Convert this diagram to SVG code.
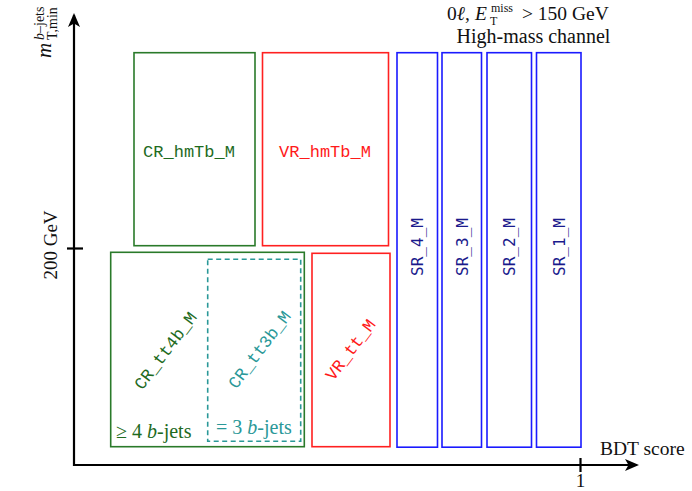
<svg xmlns="http://www.w3.org/2000/svg" width="692" height="491" viewBox="0 0 692 491">
<style>
.ser{font-family:"Liberation Serif","DejaVu Serif",serif}
.k{fill:#111}
.mono{font-family:"Liberation Mono","DejaVu Sans Mono",monospace;font-size:17px}
.smono{font-family:"DejaVu Sans Mono","Liberation Mono",monospace;font-size:16px;fill:#1a1a8c}
.box{fill:none;stroke-width:1.6}
.g{stroke:#2a7a2a}.r{stroke:#ff2020}.b{stroke:#1a1aff}.t{stroke:#2a9898;stroke-dasharray:5,3.5}
.axis{stroke:#000;stroke-width:2.2;fill:none}
</style>
<defs>
<marker id="ah" viewBox="0 0 14 12" refX="12" refY="6" markerWidth="14" markerHeight="12" markerUnits="userSpaceOnUse" orient="auto">
<path d="M0,0 L14,6 L0,12 L3.5,6 Z" fill="#000"/>
</marker>
</defs>
<g id="axes">
<line class="axis" x1="74" y1="466" x2="74" y2="15" marker-end="url(#ah)"/>
<line class="axis" x1="73" y1="465" x2="637" y2="465" marker-end="url(#ah)"/>
<line class="axis" x1="67" y1="248.5" x2="83" y2="248.5" stroke-width="1.5"/>
<line class="axis" x1="580.5" y1="458" x2="580.5" y2="472" stroke-width="1.5"/>
</g>
<g id="labels" class="k">
<text class="ser" font-size="19" transform="translate(57,245) rotate(-90)" text-anchor="middle">200 GeV</text>
<text class="ser" font-size="19" x="580.5" y="487" text-anchor="middle">1</text>
<text class="ser" font-size="19.5" x="600" y="455">BDT score</text>
<text class="ser" font-size="21" font-style="italic" transform="translate(51,58) rotate(-90)">m</text>
<text class="ser" font-size="14" transform="translate(44,40) rotate(-90)"><tspan font-style="italic">b</tspan>–jets</text>
<text class="ser" font-size="14" transform="translate(57,40) rotate(-90)">T,min</text>
<text class="ser" font-size="19.5" x="447" y="20">0<tspan font-style="italic">ℓ</tspan>,</text>
<text class="ser" font-size="19.5" font-style="italic" x="475" y="20">E</text>
<text class="ser" font-size="12" x="490" y="25">T</text>
<text class="ser" font-size="12" x="491" y="12">miss</text>
<text class="ser" font-size="19.5" x="522" y="20">&gt; 150 GeV</text>
<text class="ser" font-size="20" x="533.5" y="43" text-anchor="middle">High-mass channel</text>
</g>
<g id="CR_hmTb_M">
<rect class="box g" x="134" y="52.7" width="121" height="193"/>
<text class="mono" x="189" y="157" text-anchor="middle" fill="#1e6b1e">CR_hmTb_M</text>
</g>
<g id="VR_hmTb_M">
<rect class="box r" x="262.5" y="52.7" width="126" height="193"/>
<text class="mono" x="325" y="157" text-anchor="middle" fill="#ff1a1a">VR_hmTb_M</text>
</g>
<g id="SR_4_M">
<rect class="box b" x="397" y="52.7" width="40.5" height="394.5"/>
<text class="smono" transform="translate(423,247) rotate(-90)" text-anchor="middle">SR_4_M</text>
</g>
<g id="SR_3_M">
<rect class="box b" x="442" y="52.7" width="39.5" height="394.5"/>
<text class="smono" transform="translate(467.5,247) rotate(-90)" text-anchor="middle">SR_3_M</text>
</g>
<g id="SR_2_M">
<rect class="box b" x="487" y="52.7" width="44.5" height="394.5"/>
<text class="smono" transform="translate(515,247) rotate(-90)" text-anchor="middle">SR_2_M</text>
</g>
<g id="SR_1_M">
<rect class="box b" x="536.5" y="52.7" width="44.5" height="394.5"/>
<text class="smono" transform="translate(564.5,247) rotate(-90)" text-anchor="middle">SR_1_M</text>
</g>
<g id="CR_tt4b_M">
<rect class="box g" x="110.7" y="252.3" width="193.6" height="194.4"/>
<text class="mono" transform="translate(170,354) rotate(-53)" text-anchor="middle" fill="#1e6b1e">CR_tt4b_M</text>
<text class="ser" font-size="20" x="116" y="438" fill="#1e6b1e">≥ 4 <tspan font-style="italic">b</tspan>-jets</text>
</g>
<g id="CR_tt3b_M">
<rect class="box t" x="207.7" y="259.3" width="93" height="182"/>
<text class="mono" transform="translate(264,353) rotate(-53)" text-anchor="middle" fill="#2a9898">CR_tt3b_M</text>
<text class="ser" font-size="20" x="216" y="434" fill="#2a9898">= 3 <tspan font-style="italic">b</tspan>-jets</text>
</g>
<g id="VR_tt_M">
<rect class="box r" x="312" y="253.3" width="78" height="193.4"/>
<text class="mono" transform="translate(355,353) rotate(-53)" text-anchor="middle" fill="#ff1a1a">VR_tt_M</text>
</g>
</svg>
